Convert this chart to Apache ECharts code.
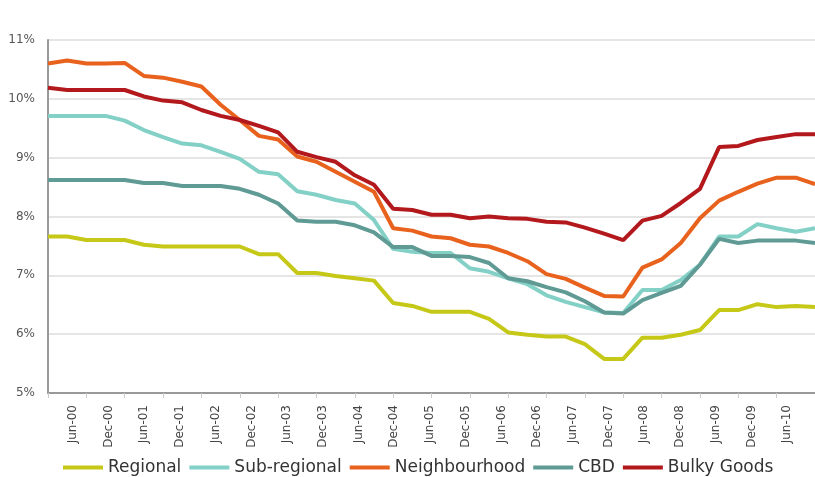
<!DOCTYPE html>
<html>
<head>
<meta charset="utf-8">
<script src="https://cdn.jsdelivr.net/npm/echarts@6/dist/echarts.min.js"></script>
<style>
  html, body { margin: 0; padding: 0; background: #fff; }
  #yields { width: 815px; height: 477px; }
</style>
</head>
<body>
<div id="yields"></div>
<script>
// quarterly points, Jun-00 .. Jun-10
const quarters = [
  'Jun-00','Sep-00','Dec-00','Mar-01','Jun-01','Sep-01','Dec-01','Mar-02','Jun-02','Sep-02',
  'Dec-02','Mar-03','Jun-03','Sep-03','Dec-03','Mar-04','Jun-04','Sep-04','Dec-04','Mar-05',
  'Jun-05','Sep-05','Dec-05','Mar-06','Jun-06','Sep-06','Dec-06','Mar-07','Jun-07','Sep-07',
  'Dec-07','Mar-08','Jun-08','Sep-08','Dec-08','Mar-09','Jun-09','Sep-09','Dec-09','Mar-10','Jun-10'
]
// half-year labels shown under the axis
const tickLabels = [
  'Jun-00','Dec-00','Jun-01','Dec-01','Jun-02','Dec-02','Jun-03','Dec-03','Jun-04','Dec-04',
  'Jun-05','Dec-05','Jun-06','Dec-06','Jun-07','Dec-07','Jun-08','Dec-08','Jun-09','Dec-09','Jun-10'
]

const regional = [7.66, 7.66, 7.60, 7.60, 7.60, 7.52, 7.49, 7.49, 7.49, 7.49,
  7.49, 7.36, 7.36, 7.04, 7.04, 6.99, 6.95, 6.91, 6.53, 6.48,
  6.38, 6.38, 6.38, 6.26, 6.03, 5.99, 5.96, 5.96, 5.83, 5.58,
  5.58, 5.94, 5.94, 5.99, 6.07, 6.41, 6.41, 6.51, 6.46, 6.48, 6.46]
const subRegional = [9.71, 9.71, 9.71, 9.71, 9.63, 9.47, 9.35, 9.24, 9.21, 9.10,
  8.98, 8.76, 8.72, 8.43, 8.37, 8.28, 8.22, 7.94, 7.45, 7.40,
  7.38, 7.38, 7.12, 7.06, 6.95, 6.85, 6.66, 6.55, 6.46, 6.37,
  6.36, 6.75, 6.75, 6.92, 7.18, 7.66, 7.66, 7.87, 7.80, 7.74, 7.80]
const neighbourhood = [10.60, 10.65, 10.60, 10.60, 10.61, 10.39, 10.36, 10.29, 10.21, 9.90,
  9.64, 9.37, 9.31, 9.02, 8.93, 8.76, 8.59, 8.42, 7.80, 7.76,
  7.66, 7.63, 7.52, 7.49, 7.38, 7.24, 7.02, 6.94, 6.79, 6.65,
  6.64, 7.13, 7.27, 7.55, 7.97, 8.27, 8.42, 8.56, 8.66, 8.66, 8.55]
const cbd = [8.62, 8.62, 8.62, 8.62, 8.62, 8.57, 8.57, 8.52, 8.52, 8.52,
  8.47, 8.37, 8.22, 7.93, 7.91, 7.91, 7.85, 7.73, 7.48, 7.48,
  7.33, 7.33, 7.31, 7.21, 6.95, 6.90, 6.80, 6.71, 6.56, 6.37,
  6.35, 6.58, 6.70, 6.82, 7.18, 7.62, 7.55, 7.59, 7.59, 7.59, 7.55]
const bulkyGoods = [10.19, 10.15, 10.15, 10.15, 10.15, 10.04, 9.97, 9.94, 9.81, 9.71,
  9.64, 9.54, 9.43, 9.10, 9.01, 8.93, 8.70, 8.54, 8.13, 8.11,
  8.03, 8.03, 7.97, 8.00, 7.97, 7.96, 7.91, 7.90, 7.81, 7.71,
  7.60, 7.93, 8.01, 8.23, 8.47, 9.18, 9.20, 9.30, 9.35, 9.40, 9.40]

const seriesNames = ['Regional', 'Sub-regional', 'Neighbourhood', 'CBD', 'Bulky Goods']
const seriesData = [regional, subRegional, neighbourhood, cbd, bulkyGoods]
const colors = ['#c6c818', '#82d0c6', '#e8621e', '#5f9b94', '#b2181c']

const chart = echarts.init(document.getElementById('yields'))
const font = 'DejaVu Sans'

const option = {
  animation: false,
  color: colors,
  textStyle: { fontFamily: font },
  grid: [
    { left: 48, top: 40, width: 768, height: 353 },
    // label band, slightly narrower like the original
    { left: 55, top: 40, width: 750, height: 353 }
  ],
  legend: {
    left: 58,
    top: 454,
    icon: 'rect',
    itemWidth: 40,
    itemHeight: 4,
    itemGap: 8,
    textStyle: { fontFamily: font, fontSize: 17, color: '#333' },
    data: seriesNames
  },
  xAxis: [
    {
      gridIndex: 0,
      type: 'category',
      data: quarters,
      boundaryGap: false,
      axisLine: { lineStyle: { color: '#999', width: 2 } },
      axisTick: { show: true, interval: 1, length: 5, lineStyle: { color: '#ccc' } },
      axisLabel: { show: false },
      splitLine: { show: false }
    },
    {
      gridIndex: 1,
      type: 'category',
      data: tickLabels,
      boundaryGap: true,
      position: 'bottom',
      axisLine: { show: false },
      axisTick: { show: false },
      axisLabel: { rotate: 90, interval: 0, margin: 12, fontSize: 12, color: '#444', fontFamily: font }
    }
  ],
  yAxis: [
    {
      gridIndex: 0,
      type: 'value',
      min: 5,
      max: 11,
      interval: 1,
      axisLine: { show: true, lineStyle: { color: '#999', width: 2 } },
      axisTick: { show: false },
      axisLabel: { formatter: '{value}%', margin: 13, fontSize: 12, color: '#555', fontFamily: font },
      splitLine: { lineStyle: { color: '#ddd', width: 1.5 } }
    },
    { gridIndex: 1, type: 'value', min: 5, max: 11, show: false }
  ],
  series: seriesNames.map((name, i) => ({
    name: name,
    type: 'line',
    xAxisIndex: 0,
    yAxisIndex: 0,
    data: seriesData[i],
    showSymbol: false,
    symbol: 'none',
    lineStyle: { width: 4, color: colors[i] }
  }))
}

chart.setOption(option)
</script>
</body>
</html>
